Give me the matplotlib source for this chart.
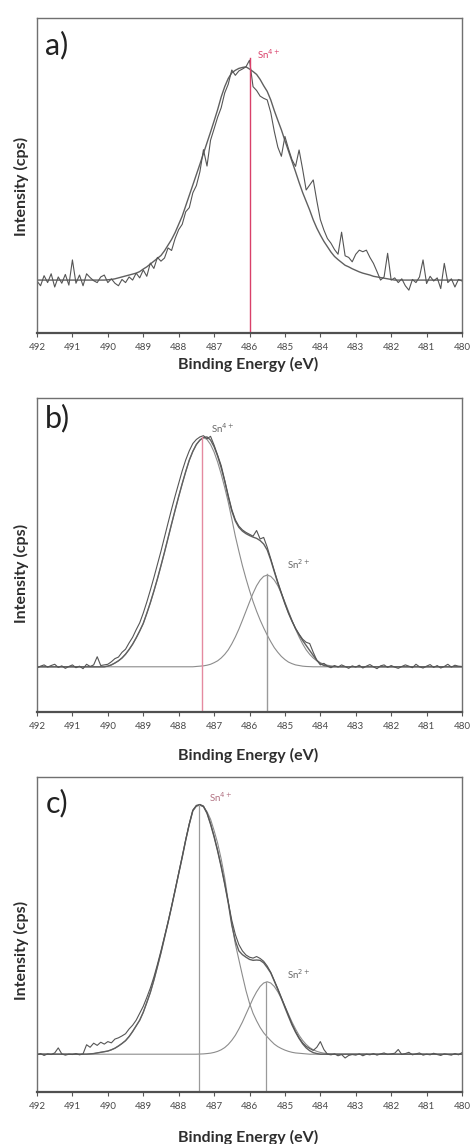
import numpy as np
import matplotlib
matplotlib.use("Agg")
import matplotlib.pyplot as plt

plt.rcParams['font.family'] = ['Lato', 'DejaVu Sans']

# ---------------- data ----------------
energy = np.linspace(492.0, 480.0, 121)          # binding energy grid (eV), 0.1 eV step
tick_values = list(range(492, 479, -1))
tick_labels = [str(v) for v in tick_values]

# panel a : raw spectrum
a_raw = [0.165, 0.150, 0.182, 0.160, 0.188, 0.146, 0.178, 0.158, 0.186, 0.152,
         0.232, 0.158, 0.184, 0.150, 0.188, 0.176, 0.166, 0.160, 0.178, 0.184,
         0.160, 0.172, 0.158, 0.150, 0.170, 0.160, 0.178, 0.168, 0.190, 0.175,
         0.200, 0.180, 0.222, 0.205, 0.240, 0.228, 0.238, 0.270, 0.262, 0.300,
         0.328, 0.345, 0.385, 0.398, 0.445, 0.468, 0.512, 0.582, 0.530, 0.612,
         0.648, 0.685, 0.715, 0.762, 0.790, 0.835, 0.818, 0.832, 0.838, 0.845,
         0.866, 0.782, 0.770, 0.752, 0.745, 0.740, 0.700, 0.640, 0.590, 0.561,
         0.624, 0.585, 0.550, 0.529, 0.581, 0.520, 0.454, 0.470, 0.486, 0.420,
         0.360, 0.327, 0.300, 0.285, 0.265, 0.250, 0.320, 0.245, 0.240, 0.226,
         0.250, 0.263, 0.258, 0.263, 0.240, 0.221, 0.195, 0.168, 0.178, 0.253,
         0.168, 0.175, 0.160, 0.172, 0.150, 0.136, 0.170, 0.160, 0.178, 0.232,
         0.157, 0.180, 0.165, 0.175, 0.141, 0.221, 0.160, 0.172, 0.146, 0.170,
         0.165]
# panel a : fitted Sn4+ envelope
a_fit = [0.168] * 20 + [
         0.169, 0.170, 0.172, 0.175, 0.178, 0.181, 0.184, 0.187, 0.190, 0.195,
         0.203, 0.210, 0.219, 0.228, 0.237, 0.246, 0.261, 0.279, 0.297, 0.319,
         0.345, 0.371, 0.404, 0.437, 0.470, 0.503, 0.536, 0.570, 0.604, 0.638,
         0.673, 0.709, 0.749, 0.782, 0.808, 0.826, 0.834, 0.840, 0.843, 0.845,
         0.838, 0.830, 0.821, 0.805, 0.785, 0.767, 0.740, 0.706, 0.675, 0.645,
         0.611, 0.578, 0.545, 0.512, 0.478, 0.446, 0.418, 0.390, 0.359, 0.333,
         0.311, 0.291, 0.274, 0.257, 0.243, 0.233, 0.224, 0.215, 0.210, 0.204,
         0.199, 0.194, 0.190, 0.187, 0.184, 0.180, 0.178, 0.176, 0.174, 0.172,
         0.170] + [0.168] * 20
a_peak = 486.0
a_peak_top = 0.873

# panel b
b_raw = [0.140, 0.146, 0.150, 0.143, 0.148, 0.152, 0.142, 0.147, 0.139, 0.145,
         0.150, 0.141, 0.146, 0.138, 0.152, 0.145, 0.150, 0.176, 0.148, 0.150,
         0.152, 0.160, 0.170, 0.175, 0.190, 0.200, 0.220, 0.238, 0.262, 0.284,
         0.315, 0.350, 0.388, 0.428, 0.470, 0.512, 0.557, 0.602, 0.646, 0.688,
         0.728, 0.768, 0.803, 0.832, 0.855, 0.868, 0.876, 0.880, 0.870, 0.878,
         0.850, 0.818, 0.785, 0.738, 0.690, 0.645, 0.612, 0.592, 0.580, 0.572,
         0.566, 0.560, 0.578, 0.551, 0.556, 0.525, 0.488, 0.450, 0.414, 0.380,
         0.346, 0.316, 0.290, 0.266, 0.248, 0.232, 0.222, 0.218, 0.190, 0.165,
         0.150, 0.155, 0.146, 0.141, 0.148, 0.143, 0.150, 0.145, 0.139, 0.147,
         0.143, 0.149, 0.140, 0.146, 0.151, 0.144, 0.138, 0.147, 0.150, 0.142,
         0.148, 0.143, 0.139, 0.145, 0.150, 0.146, 0.141, 0.152, 0.144, 0.140,
         0.146, 0.151, 0.142, 0.148, 0.140, 0.145, 0.152, 0.143, 0.149, 0.146,
         0.145]
b_fit = [0.144] * 20 + [
         0.146, 0.150, 0.156, 0.163, 0.172, 0.184, 0.199, 0.216, 0.236, 0.258,
         0.282, 0.314, 0.348, 0.385, 0.424, 0.466, 0.509, 0.554, 0.599, 0.643,
         0.686, 0.727, 0.766, 0.802, 0.830, 0.852, 0.866, 0.874, 0.876, 0.866,
         0.845, 0.815, 0.778, 0.735, 0.685, 0.640, 0.608, 0.588, 0.576, 0.568,
         0.562, 0.557, 0.553, 0.546, 0.535, 0.516, 0.484, 0.447, 0.410, 0.377,
         0.345, 0.315, 0.289, 0.266, 0.246, 0.228, 0.212, 0.196, 0.180, 0.165,
         0.154, 0.148, 0.146] + [0.144] * 38
b_sn4 = [0.144] * 20 + [
         0.146, 0.150, 0.156, 0.163, 0.172, 0.184, 0.199, 0.216, 0.236, 0.258,
         0.282, 0.314, 0.348, 0.385, 0.424, 0.466, 0.509, 0.554, 0.599, 0.643,
         0.686, 0.727, 0.766, 0.802, 0.830, 0.852, 0.866, 0.874,
         0.868, 0.852, 0.828, 0.796, 0.758, 0.715, 0.668, 0.615, 0.560, 0.512,
         0.466, 0.425, 0.387, 0.352, 0.321, 0.293, 0.268, 0.245, 0.224, 0.205,
         0.190, 0.177, 0.167, 0.159, 0.154, 0.150, 0.148, 0.146, 0.145, 0.1445,
         0.144] + [0.144] * 42
b_sn2_side = [0.145, 0.146, 0.147, 0.149, 0.152, 0.157, 0.163, 0.172, 0.1835, 0.198,
              0.217, 0.239, 0.264, 0.292, 0.321, 0.350, 0.378, 0.402, 0.420, 0.432]
b_sn2 = [0.144] * 45 + b_sn2_side + [0.436] + b_sn2_side[::-1] + [0.144] * 35
b_peaks = [487.33, 485.5]
b_peak_tops = [0.876, 0.440]

# panel c
c_raw = [0.118, 0.122, 0.116, 0.121, 0.119, 0.124, 0.140, 0.121, 0.117, 0.120,
         0.119, 0.122, 0.118, 0.121, 0.150, 0.142, 0.155, 0.148, 0.158, 0.152,
         0.160, 0.156, 0.168, 0.172, 0.178, 0.185, 0.200, 0.212, 0.228, 0.250,
         0.272, 0.300, 0.330, 0.365, 0.405, 0.448, 0.494, 0.540, 0.590, 0.642,
         0.695, 0.748, 0.802, 0.852, 0.895, 0.910, 0.913, 0.908, 0.886, 0.852,
         0.812, 0.767, 0.717, 0.662, 0.603, 0.545, 0.500, 0.468, 0.448, 0.435,
         0.428, 0.425, 0.430, 0.424, 0.415, 0.400, 0.380, 0.354, 0.328, 0.300,
         0.272, 0.244, 0.216, 0.192, 0.172, 0.156, 0.145, 0.138, 0.132, 0.142,
         0.160, 0.135, 0.120, 0.118, 0.121, 0.115, 0.119, 0.108, 0.116, 0.119,
         0.117, 0.121, 0.115, 0.120, 0.118, 0.122, 0.117, 0.121, 0.124, 0.119,
         0.121, 0.123, 0.135, 0.119, 0.122, 0.126, 0.118, 0.121, 0.124, 0.117,
         0.120, 0.118, 0.123, 0.119, 0.116, 0.121, 0.119, 0.117, 0.122, 0.118,
         0.125]
c_fit = [0.120] * 15 + [0.121, 0.122, 0.124, 0.126, 0.128,
         0.130, 0.134, 0.139, 0.146, 0.154, 0.163, 0.176, 0.192, 0.210, 0.228,
         0.253, 0.284, 0.316, 0.355, 0.398, 0.442, 0.490, 0.538, 0.588, 0.640,
         0.693, 0.745, 0.800, 0.850, 0.893, 0.908, 0.911, 0.906, 0.885, 0.850,
         0.810, 0.765, 0.715, 0.660, 0.600, 0.530, 0.480, 0.448, 0.436, 0.428,
         0.421, 0.418, 0.419, 0.418, 0.410, 0.395, 0.378, 0.352, 0.325, 0.297,
         0.268, 0.240, 0.213, 0.190, 0.170, 0.153, 0.140, 0.131, 0.125, 0.122] + [0.120] * 41
c_sn4 = [0.120] * 15 + [0.121, 0.122, 0.124, 0.126, 0.128,
         0.130, 0.134, 0.139, 0.146, 0.154, 0.163, 0.176, 0.192, 0.210, 0.228,
         0.253, 0.284, 0.316, 0.355, 0.398, 0.442, 0.490, 0.538, 0.588, 0.640,
         0.693, 0.745, 0.800, 0.850, 0.893, 0.908, 0.911,
         0.906, 0.890, 0.866, 0.830, 0.790, 0.740, 0.680, 0.605, 0.535, 0.470,
         0.420, 0.370, 0.322, 0.282, 0.250, 0.226, 0.205, 0.188, 0.175, 0.163,
         0.152, 0.144, 0.138, 0.133, 0.129, 0.126, 0.124, 0.123, 0.122, 0.121,
         0.120] + [0.120] * 43
c_sn2_side = [0.120, 0.1205, 0.121, 0.122, 0.1233, 0.1256, 0.129, 0.134, 0.141, 0.151,
              0.164, 0.180, 0.200, 0.222, 0.247, 0.272, 0.297, 0.318, 0.335, 0.346]
c_sn2 = [0.120] * 45 + c_sn2_side + [0.350] + c_sn2_side[::-1] + [0.120] * 35
c_peaks = [487.43, 485.54]
c_peak_tops = [0.911, 0.350]

# ---------------- drawing ----------------
W, H = 470, 1144
fig = plt.figure(figsize=(W / 100, H / 100), dpi=100)

RAW = '#555555'
FIT = '#606060'
COMP = '#8c8c8c'
RED = '#d9406a'
PINK = '#e58aa0'
TXT = '#2e2e2e'

panels = [
    dict(top=18, bottom=333, letter='a)', xlab_y=364, ylab_y=186, let_y=45),
    dict(top=398, bottom=712, letter='b)', xlab_y=755, ylab_y=573, let_y=418),
    dict(top=777, bottom=1092, letter='c)', xlab_y=1137, ylab_y=950, let_y=803),
]
left, right = 37, 462
axes = []
for p in panels:
    ax = fig.add_axes([left / W, 1 - p['bottom'] / H, (right - left) / W,
                       (p['bottom'] - p['top']) / H])
    ax.set_xlim(492, 480)
    ax.set_ylim(0, 1)
    ax.set_yticks([])
    ax.set_xticks(tick_values)
    ax.set_xticklabels(tick_labels, fontsize=7, color='#4a4a4a')
    ax.tick_params(axis='x', direction='out', length=3, width=0.8, color='#555555', pad=4)
    for s in ['top', 'left', 'right']:
        ax.spines[s].set_color('#707070')
        ax.spines[s].set_linewidth(1.0)
    ax.spines['bottom'].set_color('#505050')
    ax.spines['bottom'].set_linewidth(1.6)
    fig.text(248 / W, 1 - p['xlab_y'] / H, 'Binding Energy (eV)', ha='center', va='center',
             fontsize=11.5, fontweight='bold', color=TXT)
    fig.text(21 / W, 1 - p['ylab_y'] / H, 'Intensity (cps)', ha='center', va='center',
             rotation=90, fontsize=11.5, fontweight='bold', color=TXT)
    fig.text(57 / W, 1 - p['let_y'] / H, p['letter'], ha='center', va='center',
             fontsize=22, color='#222222')
    axes.append(ax)

# panel a
ax = axes[0]
ax.plot(energy, a_fit, color=FIT, lw=1.0)
ax.plot(energy, a_raw, color=RAW, lw=0.8)
ax.plot([a_peak, a_peak], [0, a_peak_top], color=RED, lw=1.0)
ax.text(485.45, 0.885, r'Sn$^{4+}$', color=RED, fontsize=7, ha='center', va='center')

# panel b
ax = axes[1]
ax.plot(energy, b_sn4, color=COMP, lw=0.8)
ax.plot(energy, b_sn2, color=COMP, lw=0.8)
ax.plot(energy, b_fit, color=FIT, lw=1.0)
ax.plot(energy, b_raw, color=RAW, lw=0.8)
ax.plot([b_peaks[0]] * 2, [0, b_peak_tops[0]], color=PINK, lw=1.0)
ax.plot([b_peaks[1]] * 2, [0, b_peak_tops[1]], color='#9a9a9a', lw=1.0)
ax.text(486.75, 0.905, r'Sn$^{4+}$', color='#666666', fontsize=7, ha='center', va='center')
ax.text(484.6, 0.47, r'Sn$^{2+}$', color='#666666', fontsize=7, ha='center', va='center')

# panel c
ax = axes[2]
ax.plot(energy, c_sn4, color=COMP, lw=0.8)
ax.plot(energy, c_sn2, color=COMP, lw=0.8)
ax.plot(energy, c_fit, color=FIT, lw=1.0)
ax.plot(energy, c_raw, color=RAW, lw=0.8)
ax.plot([c_peaks[0]] * 2, [0, c_peak_tops[0]], color='#9a9a9a', lw=0.9)
ax.plot([c_peaks[1]] * 2, [0, c_peak_tops[1]], color='#9a9a9a', lw=0.9)
ax.text(486.8, 0.935, r'Sn$^{4+}$', color='#b07080', fontsize=7, ha='center', va='center')
ax.text(484.6, 0.375, r'Sn$^{2+}$', color='#666666', fontsize=7, ha='center', va='center')

fig.savefig('out.png', dpi=100)
